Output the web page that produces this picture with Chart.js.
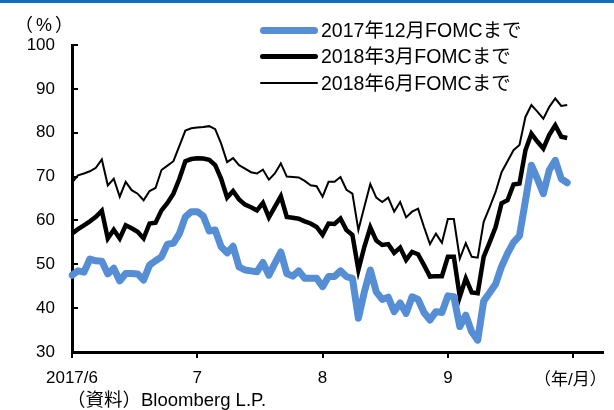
<!DOCTYPE html>
<html lang="ja">
<head>
<meta charset="utf-8">
<title>FOMC</title>
<script src="https://cdn.jsdelivr.net/npm/chart.js@4.4.1/dist/chart.umd.min.js"></script>
<style>
  body { margin: 0; background: #fff; }
  #wrap { position: relative; width: 614px; height: 410px; overflow: hidden;
          font-family: 'Liberation Sans', 'Noto Sans CJK JP', sans-serif; color: #000; }
  #topbar { position: absolute; left: 0; top: 0; width: 614px; height: 3px; background: #0f6fb8; }
  #chart { position: absolute; left: 0; top: 0; }
  .txt { position: absolute; font-size: 17px; line-height: 20px; white-space: nowrap; }
  .row { position: absolute; left: 260px; height: 26px; display: flex; align-items: center; }
  .swatch { width: 58px; border-radius: 4px; margin-right: 3px; }
  .row span { font-size: 19.5px; line-height: 26px; white-space: nowrap; }
</style>
</head>
<body>
<div id="wrap">
  <div id="topbar"></div>
  <canvas id="chart" width="614" height="410"></canvas>
  <div class="txt" style="left:15px; top:15px; font-size:18px; letter-spacing:3px;">（%）</div>
  <div class="txt" style="left:534px; top:370px;">（年/月）</div>
  <div class="txt" style="left:67px; top:390px; font-size:18.5px;">（資料）Bloomberg L.P.</div>
  <div id="legend"></div>
</div>
<script>
// 月の区切り（1か月 = 21 スロット）
const monthTicks = ['2017/6', '7', '8', '9', ''];
const slotsPerMonth = 21;
const slotCount = 90;

const seriesNames = ['2017年12月FOMCまで', '2018年3月FOMCまで', '2018年6月FOMCまで'];
const seriesColors = ['#558ED5', '#000000', '#000000'];
const seriesWidths = [7, 4.5, 2];

// 利上げ確率（%）
const fomc1712 = [47.5, 48.5, 48.2, 51.2, 50.8, 50.7, 47.8, 49.1, 46.2, 47.9,
  47.9, 47.8, 46.4, 49.8, 50.8, 51.7, 54.6, 54.8, 57.0, 60.8,
  62.0, 62.0, 61.0, 57.6, 57.8, 54.0, 52.6, 54.1, 49.4, 48.7,
  48.5, 48.3, 50.4, 47.5, 50.2, 52.8, 47.9, 47.3, 48.5, 46.8,
  46.8, 46.8, 44.9, 47.2, 47.2, 48.5, 47.2, 46.8, 37.7, 43.7,
  48.7, 43.7, 42.0, 42.5, 39.2, 41.2, 38.8, 42.6, 42.0, 39.0,
  37.3, 39.2, 39.0, 42.8, 42.6, 35.8, 38.4, 34.6, 32.7, 41.6,
  43.5, 45.5, 49.5, 52.5, 55.0, 56.5, 64.5, 72.6, 69.5, 66.1,
  71.5, 73.7, 69.5, 68.6];
const fomc1803 = [57.0, 58.0, 58.9, 59.8, 60.8, 62.2, 55.9, 57.9, 55.9, 58.9,
  58.2, 57.4, 55.9, 59.3, 59.5, 62.3, 64.0, 66.1, 69.5, 73.5,
  74.0, 74.2, 74.1, 73.8, 72.6, 69.5, 65.2, 66.7, 64.8, 63.6,
  63.0, 62.3, 64.0, 60.7, 63.1, 65.5, 60.8, 60.6, 60.4, 59.8,
  59.3, 58.5, 56.7, 59.3, 59.2, 60.4, 57.8, 56.7, 48.7, 54.0,
  58.4, 55.4, 54.4, 54.6, 52.6, 53.8, 51.0, 52.8, 52.3, 49.8,
  47.2, 47.3, 47.3, 51.7, 51.7, 42.6, 46.8, 43.6, 43.4, 51.7,
  55.0, 58.5, 63.9, 64.6, 68.2, 68.4, 76.0, 79.8, 78.0, 76.4,
  79.5, 81.7, 79.1, 78.8];
const fomc1806 = [68.6, 70.3, 70.7, 71.2, 72.0, 73.9, 68.0, 69.5, 65.4, 68.8,
  66.9, 66.1, 64.6, 66.7, 67.4, 71.5, 72.5, 73.5, 77.0, 80.5,
  81.0, 81.2, 81.3, 81.5, 80.8, 77.5, 73.3, 74.2, 72.6, 71.8,
  71.0, 70.7, 71.6, 69.3, 70.7, 73.0, 70.0, 69.9, 69.8, 69.0,
  68.0, 67.8, 65.4, 68.8, 68.8, 69.9, 67.0, 66.1, 57.8, 63.1,
  68.3, 65.2, 64.2, 65.2, 62.0, 64.2, 60.7, 62.0, 62.7, 58.5,
  54.6, 57.0, 54.9, 60.3, 60.3, 51.3, 54.8, 51.7, 51.5, 59.7,
  63.0, 66.5, 71.0, 73.5, 76.0, 77.2, 83.6, 86.3, 84.8, 83.2,
  85.9, 87.8, 86.1, 86.3];

const yMin = 30, yMax = 100, yStep = 10;

const slots = Array.from({ length: slotCount }, (_, i) => i);
const font = { family: "'Liberation Sans', 'Noto Sans CJK JP', sans-serif", size: 17 };

// 凡例
const legend = document.getElementById('legend');
seriesNames.forEach((name, i) => {
  const row = document.createElement('div');
  row.className = 'row';
  row.style.top = (17 + i * 26.3) + 'px';
  const sw = document.createElement('div');
  sw.className = 'swatch';
  sw.style.height = seriesWidths[i] + 'px';
  sw.style.background = seriesColors[i];
  const label = document.createElement('span');
  label.textContent = name;
  row.appendChild(sw);
  row.appendChild(label);
  legend.appendChild(row);
});

const values = [fomc1712, fomc1803, fomc1806];

new Chart(document.getElementById('chart'), {
  type: 'line',
  data: {
    labels: slots,
    datasets: values.map((v, i) => ({
      label: seriesNames[i],
      data: v,
      borderColor: seriesColors[i],
      borderWidth: seriesWidths[i],
      borderJoinStyle: i === 0 ? 'round' : 'miter',
      borderCapStyle: i === 0 ? 'round' : 'butt',
      pointRadius: 0,
      tension: 0,
      fill: false
    }))
  },
  options: {
    responsive: false,
    animation: false,
    layout: { padding: { top: 45, right: 11, left: 0, bottom: 0 } },
    plugins: { legend: { display: false }, tooltip: { enabled: false } },
    scales: {
      x: {
        type: 'category',
        grid: { drawOnChartArea: false, drawTicks: true, tickLength: 6, lineWidth: 2, color: '#000' },
        border: { display: true, color: '#000', width: 3 },
        ticks: {
          autoSkip: false, maxRotation: 0, padding: 10, color: '#000', font: font,
          callback: v => monthTicks[v / slotsPerMonth]
        },
        afterBuildTicks: axis => {
          axis.ticks = axis.ticks.filter(t => t.value % slotsPerMonth === 0);
        },
        afterFit: axis => { axis.height = 58; }
      },
      y: {
        min: yMin, max: yMax,
        ticks: { stepSize: yStep, padding: 23, color: '#000', font: font },
        grid: { drawOnChartArea: false, drawTicks: true, tickLength: -6, lineWidth: 2, color: '#000' },
        border: { display: true, color: '#000', width: 3 },
        afterFit: axis => { axis.width = 72; }
      }
    }
  }
});
</script>
</body>
</html>
